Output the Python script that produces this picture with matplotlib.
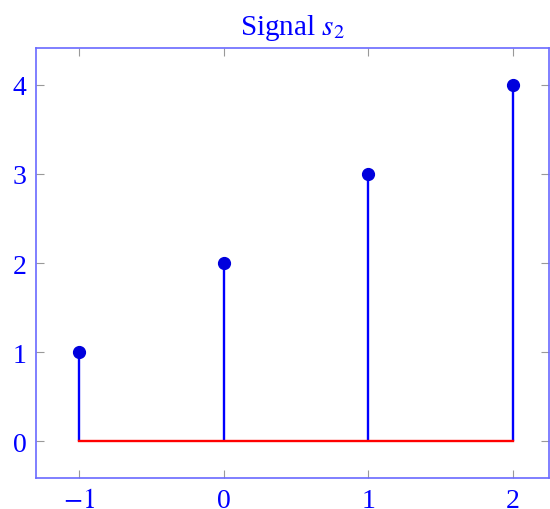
import numpy as np
import matplotlib
matplotlib.use("Agg")
import matplotlib.pyplot as plt

plt.rcParams['font.family'] = ['Liberation Serif', 'DejaVu Serif']
plt.rcParams['mathtext.fontset'] = 'stix'

# signal samples
n = [-1, 0, 1, 2]
s2 = [1, 2, 3, 4]
xticks = [-1, 0, 1, 2]
yticks = [0, 1, 2, 3, 4]

fig = plt.figure(figsize=(5.5, 5.1), dpi=100)
ax = fig.add_axes([36/550, 31/510, 513/550, 430/510])

markers, stems, base = ax.stem(n, s2, linefmt='-', markerfmt='o', basefmt='-')
plt.setp(stems, color='blue', linewidth=1.7)
plt.setp(markers, color='#0000dd', markersize=8.5)
plt.setp(base, color='red', linewidth=1.7)

ax.set_xlim(-1.30, 2.25)
ax.set_ylim(-0.41, 4.41)
ax.set_xticks(xticks)
ax.set_yticks(yticks)
ax.set_xticklabels(['$-1$' if v < 0 else str(v) for v in xticks])
ax.tick_params(direction='in', length=6, width=0.8, color='#999999',
               labelcolor='blue', labelsize=20, top=True, right=True, pad=7)
for sp in ax.spines.values():
    sp.set_color('#6a6aff')
    sp.set_linewidth(1.2)

ax.set_title('Signal $s_2$', color='blue', fontsize=21, pad=10)

plt.savefig('out.png')
plt.close()
